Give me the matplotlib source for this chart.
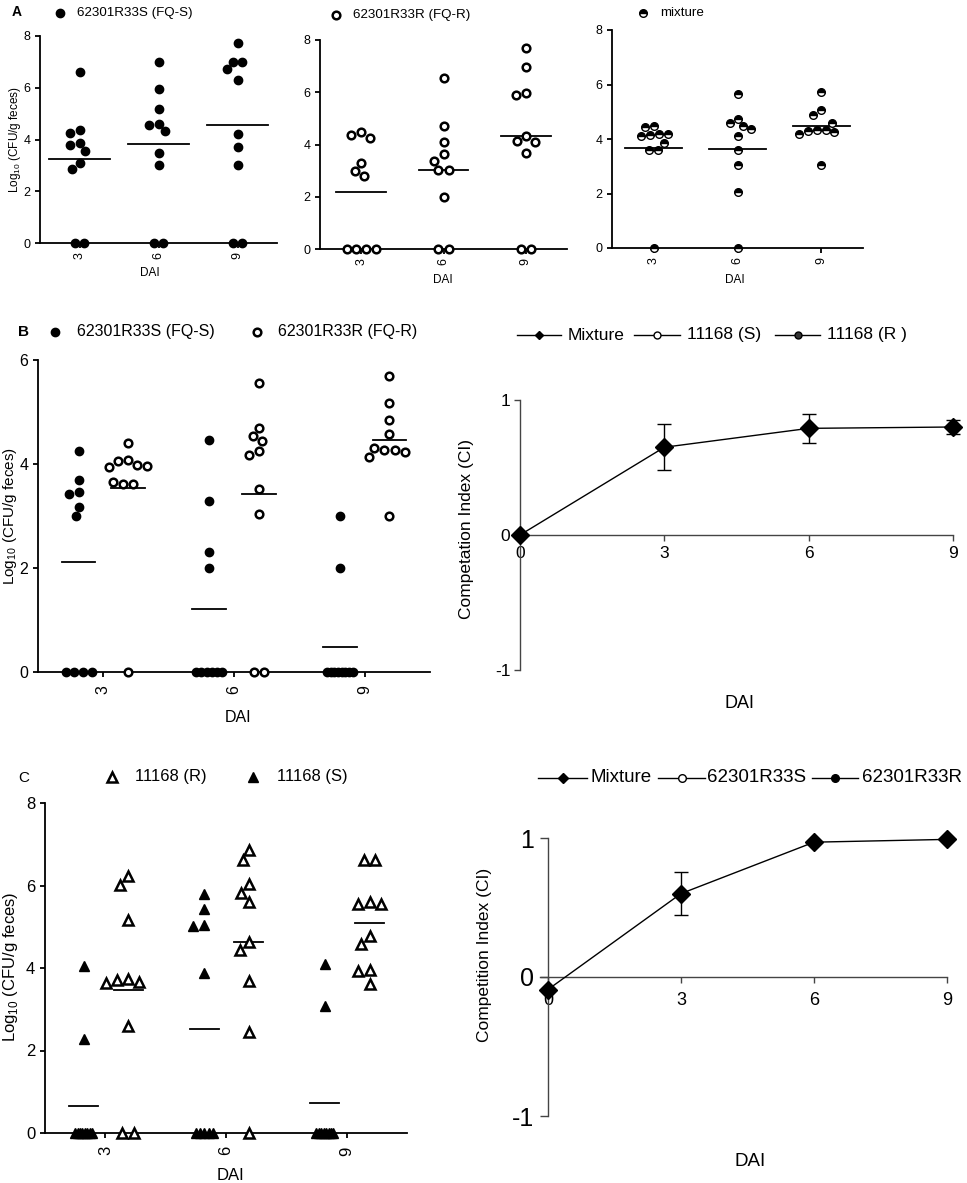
import matplotlib
matplotlib.use('Agg')
import matplotlib.pyplot as plt
import numpy as np
from matplotlib.lines import Line2D

plt.rcParams['font.family'] = ['Liberation Sans', 'DejaVu Sans']
plt.rcParams['axes.unicode_minus'] = False

W, H = 967, 1183

day_labels = ['3', '6', '9']

# Panel A: log10 CFU/g feces per mouse, DAI 3 / 6 / 9
a_fqs = [
    [6.62, 4.36, 4.24, 3.85, 3.78, 3.55, 3.10, 2.86, 0, 0],
    [7.01, 5.94, 5.18, 4.60, 4.57, 4.31, 3.49, 3.00, 0, 0],
    [7.72, 7.01, 7.01, 6.71, 6.30, 4.21, 3.72, 3.00, 0, 0],
]
a_fqs_mean = [3.23, 3.82, 4.55]
a_fqr = [
    [4.46, 4.38, 4.25, 3.29, 2.98, 2.78, 0, 0, 0, 0],
    [6.54, 4.69, 4.08, 3.64, 3.36, 3.01, 3.01, 1.99, 0, 0],
    [7.68, 6.98, 5.99, 5.90, 4.31, 4.15, 4.11, 3.67, 0, 0],
]
a_fqr_mean = [2.20, 3.03, 4.31]
a_mix = [
    [4.47, 4.44, 4.19, 4.17, 4.13, 4.11, 3.86, 3.61, 3.61, 0],
    [5.64, 4.74, 4.57, 4.47, 4.35, 4.11, 3.58, 3.04, 2.05, 0],
    [5.72, 5.05, 4.88, 4.57, 4.33, 4.33, 4.29, 4.25, 4.19, 3.04],
]
a_mix_mean = [3.66, 3.65, 4.47]

# Panel B
b_fqs = [
    [4.25, 3.70, 3.47, 3.42, 3.18, 3.00, 0, 0, 0, 0],
    [4.47, 3.29, 2.30, 2.00, 0, 0, 0, 0, 0, 0],
    [3.00, 2.00, 0, 0, 0, 0, 0, 0, 0, 0],
]
b_fqs_mean = [2.11, 1.21, 0.49]
b_fqr = [
    [4.40, 4.08, 4.05, 3.98, 3.96, 3.95, 3.65, 3.61, 3.61, 0],
    [5.56, 4.70, 4.54, 4.44, 4.25, 4.18, 3.51, 3.04, 0, 0],
    [5.70, 5.18, 4.84, 4.58, 4.30, 4.27, 4.27, 4.24, 4.14, 3.00],
]
b_fqr_mean = [3.53, 3.42, 4.46]
b_ci_days = [0, 3, 6, 9]
b_ci = [0.0, 0.65, 0.79, 0.80]
b_ci_err = [0.0, 0.17, 0.105, 0.055]

# Panel C
c_r = [
    [6.22, 6.02, 5.16, 3.73, 3.72, 3.65, 3.64, 2.59, 0, 0],
    [6.85, 6.61, 6.04, 5.83, 5.59, 4.63, 4.44, 3.68, 2.44, 0],
    [6.61, 6.61, 5.59, 5.56, 5.55, 4.77, 4.59, 3.94, 3.92, 3.62],
]
c_r_mean = [3.47, 4.63, 5.09]
c_s = [
    [4.04, 2.28, 0, 0, 0, 0, 0, 0, 0, 0],
    [5.79, 5.43, 5.05, 5.03, 3.88, 0, 0, 0, 0, 0],
    [4.10, 3.09, 0, 0, 0, 0, 0, 0, 0, 0],
]
c_s_mean = [0.65, 2.53, 0.73]
c_ci_days = [0, 3, 6, 9]
c_ci = [-0.09, 0.60, 0.97, 0.99]
c_ci_err = [0.0, 0.155, 0.0, 0.0]

fig = plt.figure(figsize=(W / 100, H / 100), dpi=100)


def px_rect(l, t, r, b):
    return [l / W, 1 - b / H, (r - l) / W, (b - t) / H]


def ftext(x, y, s, **kw):
    fig.text(x / W, 1 - y / H, s, **kw)


def swarm(ax, vals, center, diam, maxspan):
    # beeswarm: tied values go in one packed row (squeezed to maxspan px),
    # the rest are pushed sideways until they stop overlapping
    pos = ax.get_position()
    x0, x1 = ax.get_xlim()
    y0, y1 = ax.get_ylim()
    sx = pos.width * W / (x1 - x0)
    sy = pos.height * H / (y1 - y0)
    vals = np.asarray(vals, float)
    xs = np.full(len(vals), float(center))
    placed = []
    done = np.zeros(len(vals), bool)
    for v in np.unique(vals):
        idx = np.where(vals == v)[0]
        if len(idx) > 1:
            step = min(diam, maxspan / (len(idx) - 1))
            offs = (np.arange(len(idx)) - (len(idx) - 1) / 2) * step
            for i, o in zip(idx, offs):
                xs[i] = center + o / sx
                placed.append((o, v * sy))
                done[i] = True
    for i in np.argsort(-vals, kind='stable'):
        if done[i]:
            continue
        y = vals[i] * sy
        blocked = []
        for px, py in placed:
            dy = abs(py - y)
            if dy < diam:
                dx = np.sqrt(diam ** 2 - dy ** 2)
                blocked.append((px - dx, px + dx))
        cands = sorted([0.0] + [e for iv in blocked for e in iv], key=lambda c: (abs(c), c))
        for c in cands:
            if all(c <= lo + 1e-6 or c >= hi - 1e-6 for lo, hi in blocked):
                break
        placed.append((c, y))
        xs[i] = center + c / sx
    return xs


def dots(ax, groups, means, offset, halfw, style, maxspan):
    diam = (style.get('ms', 6) + style.get('mew', 1)) * 100 / 72
    for k, (vals, m) in enumerate(zip(groups, means)):
        c = k + 1 + offset
        xs = swarm(ax, vals, c, diam, maxspan)
        ax.plot(xs, vals, ls='none', clip_on=False, zorder=3, **style)
        ax.plot([c - halfw, c + halfw], [m, m], color='black', lw=1.3, zorder=2)


def dot_axes(rect, ymax, fs, pad):
    ax = fig.add_axes(px_rect(*rect))
    ax.set_xlim(0.5, 3.5)
    ax.set_ylim(0, ymax)
    ax.set_yticks(range(0, ymax + 1, 2))
    ax.set_xticks([1, 2, 3], day_labels, rotation=90)
    for s in ['top', 'right']:
        ax.spines[s].set_visible(False)
    for s in ['left', 'bottom']:
        ax.spines[s].set_linewidth(1.3)
    ax.tick_params(width=1.3, length=3.5, labelsize=fs)
    ax.tick_params(axis='x', pad=pad)
    return ax


def ci_axes(rect, xlim, fs_x, fs_y, ylen, ypad, xlen, xpad):
    ax = fig.add_axes(px_rect(*rect))
    ax.set_xlim(*xlim)
    ax.set_ylim(-1, 1)
    ax.spines['bottom'].set_position(('data', 0))
    ax.spines['left'].set_position(('data', 0))
    for s in ['top', 'right']:
        ax.spines[s].set_visible(False)
    for s in ['left', 'bottom']:
        ax.spines[s].set_color('#444444')
        ax.spines[s].set_linewidth(1.0)
    ax.set_xticks([0, 3, 6, 9])
    ax.set_yticks([-1, 0, 1])
    ax.tick_params(colors='#444444', labelcolor='black', width=1.0)
    ax.tick_params(axis='x', labelsize=fs_x, length=xlen, pad=xpad)
    ax.tick_params(axis='y', labelsize=fs_y, length=ylen, pad=ypad)
    return ax


def ci_line(ax, x, y, err, ms):
    cont = ax.errorbar(x, y, yerr=err, fmt='-D', color='black', ms=ms, lw=1.0,
                       elinewidth=1.0, capsize=5, capthick=1.0, zorder=3)
    for art in cont.get_children():
        art.set_clip_on(False)


def dot_key(x, y, tx, label, fs, **mk):
    fig.add_artist(Line2D([x / W], [1 - y / H], ls='none', transform=fig.transFigure, **mk))
    ftext(tx, y, label, fontsize=fs, va='center')


def line_key(x0, x1, y, tx, label, fs, **mk):
    fig.add_artist(Line2D([x0 / W, x1 / W], [1 - y / H] * 2, color='black', lw=1.0,
                          transform=fig.transFigure))
    fig.add_artist(Line2D([(x0 + x1) / 2 / W], [1 - y / H], ls='none',
                          transform=fig.transFigure, **mk))
    ftext(tx, y, label, fontsize=fs, va='center')


filled = dict(marker='o', ms=6, mfc='black', mec='black', mew=1)
hollow = dict(marker='o', ms=5.5, mfc='white', mec='black', mew=1.8)
half = dict(marker='o', ms=5.5, mfc='black', mfcalt='white', fillstyle='top', mec='black', mew=1)
tri_f = dict(marker='^', ms=7, mfc='black', mec='black', mew=1)
tri_o = dict(marker='^', ms=6.5, mfc='white', mec='black', mew=1.8)

# ---- A ----
ax = dot_axes((40, 36, 277, 243), 8, 9, 3)
dots(ax, a_fqs, a_fqs_mean, 0, 0.39, filled, 19)
ax = dot_axes((320, 40, 567, 249), 8, 9, 3)
dots(ax, a_fqr, a_fqr_mean, 0, 0.30, hollow, 29)
ax = dot_axes((612, 30, 863, 248), 8, 9, 3)
dots(ax, a_mix, a_mix_mean, 0, 0.34, half, 20)

ftext(12, 12, 'A', fontsize=10, fontweight='bold', va='center')
dot_key(60, 13, 77, '62301R33S (FQ-S)', 9.6, **filled)
dot_key(336, 15, 353, '62301R33R (FQ-R)', 9.6, **hollow)
dot_key(643, 13, 660, 'mixture', 9.6, **half)
ftext(15, 140, r'Log$_{\mathregular{10}}$ (CFU/g feces)', fontsize=8.5, rotation=90,
      ha='center', va='center')
ftext(150, 273, 'DAI', fontsize=8.5, ha='center', va='center')
ftext(443, 280, 'DAI', fontsize=8.5, ha='center', va='center')
ftext(735, 280, 'DAI', fontsize=8.5, ha='center', va='center')

# ---- B ----
ax = dot_axes((38, 360, 430, 672), 6, 11.5, 6)
dots(ax, b_fqs, b_fqs_mean, -0.19, 0.13, filled, 26)
dots(ax, b_fqr, b_fqr_mean, 0.19, 0.13, hollow, 26)
ftext(18, 332, 'B', fontsize=11, fontweight='bold', va='center')
dot_key(55, 332, 77, '62301R33S (FQ-S)', 11.5, **filled)
dot_key(257, 332, 278, '62301R33R (FQ-R)', 11.5, **hollow)
ftext(10, 516, r'Log$_{\mathregular{10}}$ (CFU/g feces)', fontsize=11, rotation=90,
      ha='center', va='center')
ftext(238, 717, 'DAI', fontsize=11.5, ha='center', va='center')

ax = ci_axes((520, 400, 953, 670), (0, 9), 12.5, 12.5, 4, 3, 4, 4)
ci_line(ax, b_ci_days, b_ci, b_ci_err, 9)
ftext(467, 529, 'Competation Index (CI)', fontsize=12.5, rotation=90, ha='center', va='center')
ftext(740, 703, 'DAI', fontsize=13, ha='center', va='center')
line_key(517, 561, 335, 568, 'Mixture', 12.5, marker='D', ms=4.5, color='black')
line_key(634, 680, 335, 687, '11168 (S)', 12.5, marker='o', ms=5, mfc='white', mec='black', mew=1)
line_key(775, 820, 335, 827, '11168 (R )', 12.5, marker='o', ms=5, mfc='#333333', mec='black', mew=1)

# ---- C ----
ax = dot_axes((45, 803, 407, 1133), 8, 12, 6)
dots(ax, c_s, c_s_mean, -0.18, 0.12, tri_f, 17)
dots(ax, c_r, c_r_mean, 0.19, 0.12, tri_o, 17)
ftext(18, 778, 'C', fontsize=11, va='center')
dot_key(112, 777, 135, '11168 (R)', 12, **tri_o)
dot_key(253, 777, 277, '11168 (S)', 12, **tri_f)
ftext(11, 967, r'Log$_{\mathregular{10}}$ (CFU/g feces)', fontsize=12, rotation=90,
      ha='center', va='center')
ftext(230, 1175, 'DAI', fontsize=12, ha='center', va='center')

ax = ci_axes((540, 838, 947, 1116), (-0.18, 9), 13, 18, 6, 4, 4, 7)
ci_line(ax, c_ci_days, c_ci, c_ci_err, 9.5)
ftext(485, 955, 'Competition Index (CI)', fontsize=12.5, rotation=90, ha='center', va='center')
ftext(750, 1162, 'DAI', fontsize=13.5, ha='center', va='center')
line_key(538, 587, 778, 590, 'Mixture', 13.5, marker='D', ms=5, color='black')
line_key(658, 705, 778, 707, '62301R33S', 13.5, marker='o', ms=5.5, mfc='white', mec='black', mew=1)
line_key(812, 858, 778, 862, '62301R33R', 13.5, marker='o', ms=5.5, mfc='black', mec='black', mew=1)

fig.savefig('out.png', dpi=100)
